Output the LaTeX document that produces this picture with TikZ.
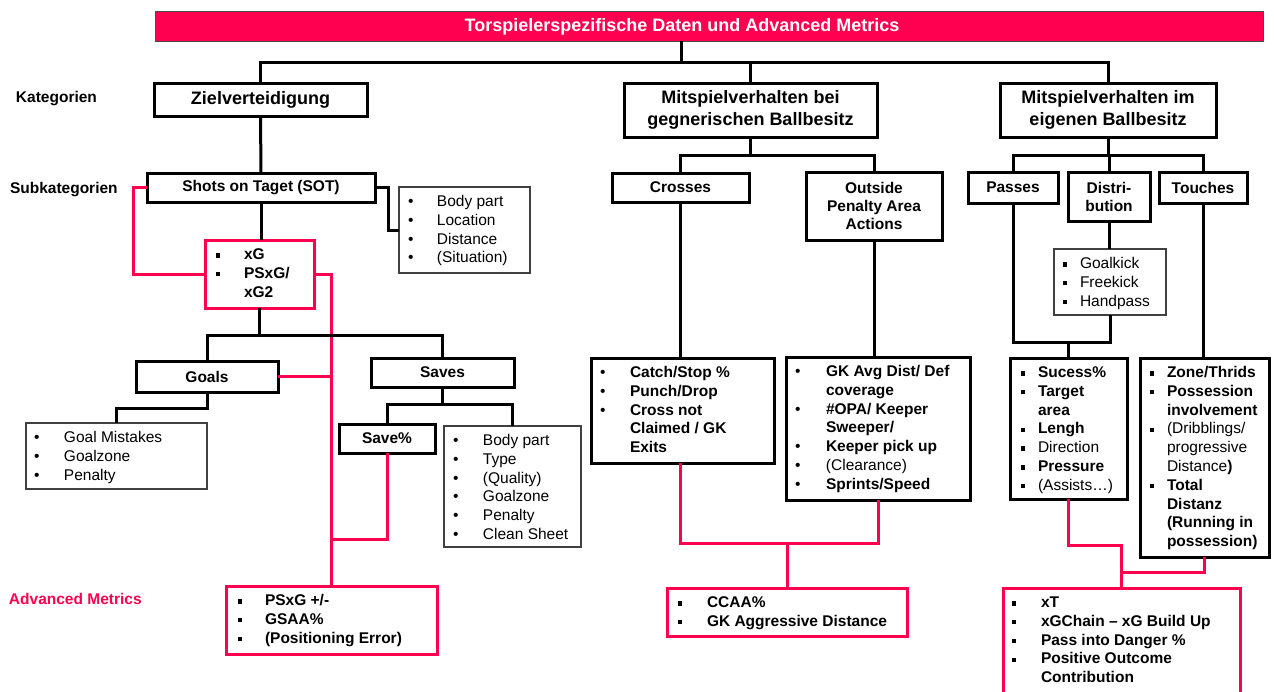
\documentclass[tikz,border=0pt]{standalone}
\usepackage{fontspec}
\setmainfont{Liberation Sans}
\usetikzlibrary{calc}
\definecolor{pinkred}{RGB}{255,0,80}
\newcommand{\bu}[2]{\makebox[#1][l]{•}#2}
\newcommand{\sqb}[2]{\makebox[#1][l]{\rule[2pt]{4.3pt}{4.3pt}}#2}
\newcommand{\ct}[2]{\hspace*{#1}#2}
\newcommand{\fst}{\rule{0pt}{13pt}}
\tikzset{
 every node/.style={inner sep=0pt, outer sep=0pt},
 thickbox/.style={draw=black, line width=3pt, anchor=north west, align=center, font=\fontsize{15.5}{18}\selectfont\bfseries},
 catbox/.style={thickbox, font=\fontsize{18}{22}\selectfont\bfseries},
 listbox/.style={draw=black, line width=3pt, anchor=north west},
 thinbox/.style={draw=black!75, line width=1.3pt, anchor=north west},
 redbox/.style={draw=pinkred, line width=3pt, anchor=north west},
 listtext/.style={anchor=north west, align=left, font=\fontsize{15.5}{18.8}\selectfont},
 conn/.style={draw=black, line width=3pt},
 rconn/.style={draw=pinkred, line width=3pt},
 sidelabel/.style={anchor=west, font=\fontsize{15.5}{18.7}\selectfont\bfseries},
}
\begin{document}
\begin{tikzpicture}[x=1pt,y=-1pt]
\useasboundingbox (0,0) rectangle (1274,691);
% title
\node[draw=black!70, line width=1pt, fill=pinkred, anchor=north west, minimum width=1108pt, minimum height=30pt] (title) at (155,11) {};
\node[font=\fontsize{18}{22}\selectfont\bfseries, text=white] (titletext) at (682,27) {Torspielerspezifische Daten und Advanced Metrics};
% side labels
\node[sidelabel] (lk) at (16,99) {Kategorien};
\node[sidelabel] (ls) at (10,190) {Subkategorien};
\node[sidelabel, text=pinkred] (la) at (9,599) {Advanced Metrics};
% categories
\node[catbox, minimum width=213pt, minimum height=33pt] (ziel) at (154,83) {Zielverteidigung};
\node[catbox, minimum width=253pt, minimum height=54pt] (m1) at (624,83) {Mitspielverhalten bei\\gegnerischen Ballbesitz};
\node[catbox, minimum width=216pt, minimum height=54pt] (m2) at (1000,83) {Mitspielverhalten im\\eigenen Ballbesitz};
% subcategories
\node[thickbox, minimum width=228pt, minimum height=29pt] (sot) at (147,173) {Shots on Taget (SOT)};
\node[thickbox, minimum width=137pt, minimum height=29pt] (cross) at (612,173) {Crosses};
\node[thickbox, minimum width=136pt, minimum height=68pt] (opa) at (806,172) {Outside\\Penalty Area\\Actions};
\node[thickbox, minimum width=90pt, minimum height=31pt] (passes) at (968,172) {Passes};
\node[thickbox, minimum width=82pt, minimum height=49pt] (distri) at (1068,172) {Distri-\\bution};
\node[thickbox, minimum width=88pt, minimum height=31pt] (touch) at (1159,172) {Touches};
\node[thickbox, minimum width=142pt, minimum height=31pt] (goals) at (136,361) {Goals};
\node[thickbox, minimum width=143pt, minimum height=29pt] (saves) at (371,358) {Saves};
\node[thickbox, minimum width=96pt, minimum height=29pt] (savep) at (339,424) {Save\%};
% list boxes
\node[thinbox, minimum width=131pt, minimum height=86pt] (sotl) at (399,187) {};
\node[redbox, minimum width=109pt, minimum height=68pt] (xg) at (205,240) {};
\node[thinbox, minimum width=181pt, minimum height=66pt] (goalsl) at (26,423) {};
\node[thinbox, minimum width=137pt, minimum height=121pt] (savel) at (444,426) {};
\node[redbox, minimum width=211pt, minimum height=68pt] (psxg) at (226,586) {};
\node[listbox, minimum width=183pt, minimum height=105pt] (crossl) at (591,358) {};
\node[listbox, minimum width=184pt, minimum height=143pt] (opal) at (786,357) {};
\node[redbox, minimum width=240pt, minimum height=48pt] (ccaa) at (667,588) {};
\node[thinbox, minimum width=112pt, minimum height=66pt] (gkl) at (1054,249) {};
\node[listbox, minimum width=117pt, minimum height=141pt] (sucl) at (1010,358) {};
\node[listbox, minimum width=129pt, minimum height=199pt] (zonel) at (1140,358) {};
\node[redbox, minimum width=237pt, minimum height=110pt] (xt) at (1003,588) {};
% list texts
\node[listtext] (sotlt) at (408,193.5) {\fst\bu{29pt}{Body part}\\\bu{29pt}{Location}\\\bu{29pt}{Distance}\\\bu{29pt}{(Situation)}};
\node[listtext] (xgt) at (216,246.5) {\fst\sqb{28pt}{\textbf{xG}}\\\sqb{28pt}{\textbf{PSxG/}}\\\ct{28pt}{\textbf{xG2}}};
\node[listtext] (goalslt) at (34,429.5) {\fst\bu{30pt}{Goal Mistakes}\\\bu{30pt}{Goalzone}\\\bu{30pt}{Penalty}};
\node[listtext] (savelt) at (453,432.5) {\fst\bu{30pt}{Body part}\\\bu{30pt}{Type}\\\bu{30pt}{(Quality)}\\\bu{30pt}{Goalzone}\\\bu{30pt}{Penalty}\\\bu{30pt}{Clean Sheet}};
\node[listtext] (psxgt) at (238,592.5) {\fst\sqb{27pt}{\textbf{PSxG +/-}}\\\sqb{27pt}{\textbf{GSAA\%}}\\\sqb{27pt}{\textbf{(Positioning Error)}}};
\node[listtext] (crosslt) at (600,364.5) {\fst\bu{30pt}{\textbf{Catch/Stop \%}}\\\bu{30pt}{\textbf{Punch/Drop}}\\\bu{30pt}{\textbf{Cross not}}\\\ct{30pt}{\textbf{Claimed / GK}}\\\ct{30pt}{\textbf{Exits}}};
\node[listtext] (opalt) at (795,363.5) {\fst\bu{31pt}{\textbf{GK Avg Dist/ Def}}\\\ct{31pt}{\textbf{coverage}}\\\bu{31pt}{\textbf{\#OPA/ Keeper}}\\\ct{31pt}{\textbf{Sweeper/}}\\\bu{31pt}{\textbf{Keeper pick up}}\\\bu{31pt}{(Clearance)}\\\bu{31pt}{\textbf{Sprints/Speed}}};
\node[listtext] (ccaat) at (678,594.5) {\fst\sqb{29pt}{\textbf{CCAA\%}}\\\sqb{29pt}{\textbf{GK Aggressive Distance}}};
\node[listtext] (gklt) at (1063,255.5) {\fst\sqb{17pt}{Goalkick}\\\sqb{17pt}{Freekick}\\\sqb{17pt}{Handpass}};
\node[listtext] (suclt) at (1021,364.5) {\fst\sqb{17pt}{\textbf{Sucess\%}}\\\sqb{17pt}{\textbf{Target}}\\\ct{17pt}{\textbf{area}}\\\sqb{17pt}{\textbf{Lengh}}\\\sqb{17pt}{Direction}\\\sqb{17pt}{\textbf{Pressure}}\\\sqb{17pt}{(Assists…)}};
\node[listtext] (zonelt) at (1150,364.5) {\fst\sqb{17pt}{\textbf{Zone/Thrids}}\\\sqb{17pt}{\textbf{Possession}}\\\ct{17pt}{\textbf{involvement}}\\\sqb{17pt}{(Dribblings/}\\\ct{17pt}{progressive}\\\ct{17pt}{Distance\textbf{)}}\\\sqb{17pt}{\textbf{Total}}\\\ct{17pt}{\textbf{Distanz}}\\\ct{17pt}{\textbf{(Running in}}\\\ct{17pt}{\textbf{possession)}}};
\node[listtext] (xtt) at (1012,594.5) {\fst\sqb{29pt}{\textbf{xT}}\\\sqb{29pt}{\textbf{xGChain – xG Build Up}}\\\sqb{29pt}{\textbf{Pass into Danger \%}}\\\sqb{29pt}{\textbf{Positive Outcome}}\\\ct{29pt}{\textbf{Contribution}}};
% connectors top level
\coordinate (j0) at (681,62);
\draw[conn] (title.south -| j0) -- (j0);
\draw[conn] (ziel.north) |- (m2.north |- j0) -- (m2.north);
\draw[conn] (m1.north) -- (m1.north |- j0);
% left branch
\draw[conn] (ziel.south) -- (sot.north);
\draw[conn] (sot.east) -- ++(13,0) |- (sotl.west);
\draw[conn] (sot.south) -- (sot.south |- xg.north);
\draw[rconn] (sot.west) -- ++(-14,0) |- (xg.west);
\draw[rconn] (xg.east) -| (psxg.north);
\draw[rconn] (goals.east) -- (goals.east -| psxg.north);
\draw[rconn] (savep.south) |- ($(psxg.north)+(0,-47)$);
\coordinate (j1) at ($(xg.south)+(0,27)$);
\draw[conn] (xg.south) -- (j1);
\draw[conn] (goals.north) |- (saves.north |- j1) -- (saves.north);
\draw[conn] (goals.south) -- ++(0,16) -| (goalsl.north);
\coordinate (j2) at ($(saves.south)+(0,17)$);
\draw[conn] (saves.south) -- (j2);
\draw[conn] (savep.north) |- (j2) -| (savel.north);
% middle branch
\coordinate (j3) at ($(m1.south)+(0,18)$);
\draw[conn] (m1.south) -- (j3);
\draw[conn] (cross.north) |- (j3) -| (opa.north);
\draw[conn] (cross.south) -- (cross.south |- crossl.north);
\draw[conn] (opa.south) -- (opa.south |- opal.north);
\draw[rconn] (cross.south |- crossl.south) |- ($(opal.south)+(0,43)$) -- (opal.south);
\draw[rconn] (ccaa.north) -- ++(0,-45);
% right branch
\coordinate (j4) at ($(m2.south)+(0,18)$);
\draw[conn] (m2.south) -- (j4);
\draw[conn] (passes.north) |- (j4) -| (touch.north);
\draw[conn] (distri.north) -- (distri.north |- j4);
\draw[conn] (distri.south) -- (distri.south |- gkl.north);
\draw[conn] (passes.south) |- ($(gkl.south)+(0,27)$) -- (gkl.south);
\draw[conn] (sucl.north) -- ++(0,-16);
\draw[conn] (touch.south) -- (touch.south |- zonel.north);
\draw[rconn] (sucl.south) |- ($(xt.north)+(0,-43)$) -- (xt.north);
\draw[rconn] (zonel.south) |- ($(xt.north)+(0,-16)$);
\end{tikzpicture}
\end{document}
